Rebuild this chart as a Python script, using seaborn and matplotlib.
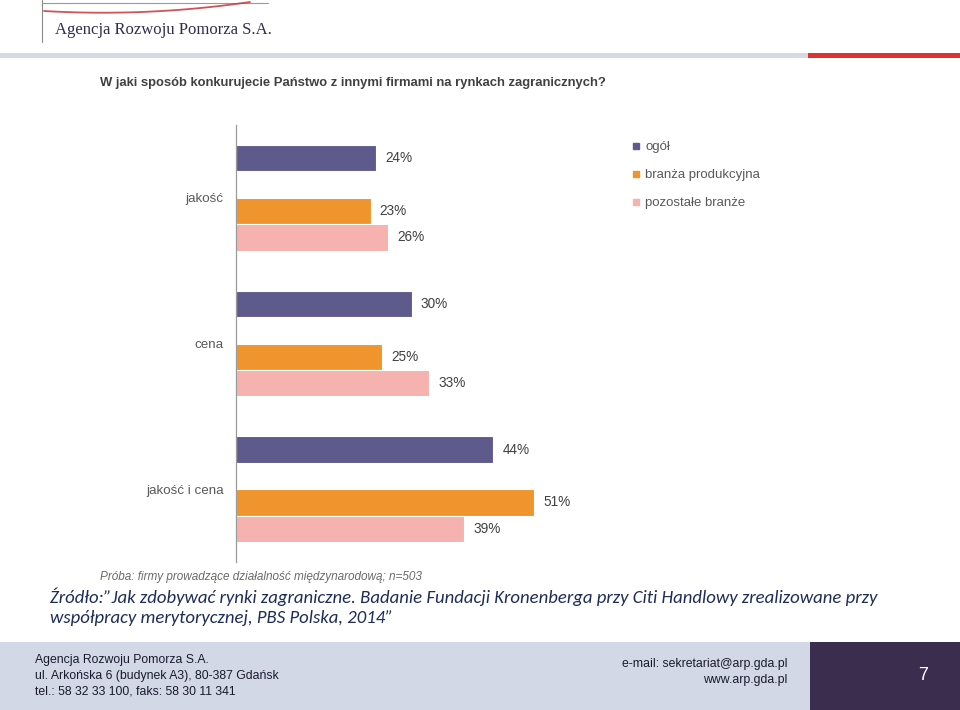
import matplotlib
matplotlib.use("Agg")
import numpy as np
import pandas as pd
import matplotlib.pyplot as plt
from matplotlib.patches import Rectangle
from matplotlib.lines import Line2D
import seaborn as sns

# --- Data ---
categories = ["jakość", "cena", "jakość i cena"]
series = ["ogół", "branża produkcyjna", "pozostałe branże"]
ogol = [24, 30, 44]
produkcyjna = [23, 25, 51]
pozostale = [26, 33, 39]

colors = {"ogół": "#5E5A8C", "branża produkcyjna": "#F0942E", "pozostałe branże": "#F5B2AE"}
GAP = " "  # empty hue slot between "ogół" and the two sector bars

W, H = 960, 710


def fx(px):
    return px / W


def fy(py):
    return 1 - py / H


df = pd.DataFrame({
    "kategoria": categories * 3,
    "seria": [s for s in series for _ in categories],
    "wartosc": ogol + produkcyjna + pozostale,
})

sns.set_theme(style="white")
plt.rcParams["font.family"] = ["Liberation Sans", "DejaVu Sans"]

fig = plt.figure(figsize=(9.6, 7.1), dpi=100)

# --- Slide decoration: header / footer ---
fig.add_artist(Line2D([fx(42), fx(42)], [fy(0), fy(42)], transform=fig.transFigure, color="#8A8A8A", lw=0.8))
fig.add_artist(Line2D([fx(42), fx(268)], [fy(3), fy(3)], transform=fig.transFigure, color="#9A9A9A", lw=0.8))
t = np.linspace(0, 1, 50)
sx = 44 + 206 * t
sy = 11 + 12 * t * (1 - t) - 9 * t ** 2
fig.add_artist(Line2D(fx(sx), fy(sy), transform=fig.transFigure, color="#C8353A", lw=1.3, alpha=0.85))
fig.text(fx(55), fy(30), "Agencja Rozwoju Pomorza S.A.", family=["Liberation Serif"],
         fontsize=12, color="#2E2E4E", va="center")

fig.add_artist(Rectangle((0, fy(58)), fx(808), 5 / H, transform=fig.transFigure, color="#D5D9E6", lw=0))
fig.add_artist(Rectangle((fx(808), fy(58)), fx(152), 5 / H, transform=fig.transFigure, color="#E0312F", lw=0))

fig.add_artist(Rectangle((0, 0), fx(810), 68 / H, transform=fig.transFigure, color="#D2D8E6", lw=0))
fig.add_artist(Rectangle((fx(810), 0), fx(150), 68 / H, transform=fig.transFigure, color="#3A2D4E", lw=0))
fig.text(fx(923), fy(676), "7", color="white", fontsize=13, ha="center", va="center")

foot = ["Agencja Rozwoju Pomorza S.A.",
        "ul. Arkońska 6 (budynek A3), 80-387 Gdańsk",
        "tel.: 58 32 33 100, faks: 58 30 11 341"]
for i, line in enumerate(foot):
    fig.text(fx(35), fy(660 + 15.5 * i), line, fontsize=8.8, color="#1A1A2E", va="center")
fig.text(fx(787), fy(664), "e-mail: sekretariat@arp.gda.pl", fontsize=8.8, color="#1A1A2E",
         ha="right", va="center")
fig.text(fx(787), fy(680), "www.arp.gda.pl", fontsize=8.8, color="#1A1A2E",
         ha="right", va="center")

# --- Chart ---
fig.text(fx(100), fy(83), "W jaki sposób konkurujecie Państwo z innymi firmami na rynkach zagranicznych?",
         fontsize=9.4, weight="bold", color="#404040", va="center")

ax = fig.add_axes([fx(236), fy(562), 351 / W, 437 / H])
sns.barplot(data=df, x="wartosc", y="kategoria", hue="seria", order=categories,
            hue_order=[series[0], GAP, series[1], series[2]],
            palette={**colors, GAP: "white"}, width=0.726, orient="h", saturation=1,
            edgecolor="white", linewidth=0.8, errorbar=None, legend=False, ax=ax)

for c in ax.containers:
    ax.bar_label(c, fmt="%d%%", padding=6.5, fontsize=9.8, color="#404040")

ax.set_xlim(0, 60)
ax.set_xlabel("")
ax.set_ylabel("")
ax.set_xticks([])
ax.tick_params(axis="y", length=0, pad=9, labelcolor="#595959", labelsize=9.6)
for side in ["top", "right", "bottom"]:
    ax.spines[side].set_visible(False)
ax.spines["left"].set_color("#9A9A9A")
ax.spines["left"].set_linewidth(0.9)
ax.set_facecolor("none")

handles = [Line2D([], [], marker="s", linestyle="", color=colors[s], markersize=4) for s in series]
fig.legend(handles, series, loc="upper left", bbox_to_anchor=(fx(632), fy(141)), frameon=False,
           fontsize=9.5, labelcolor="#595959", handlelength=0.6, handletextpad=0.4,
           labelspacing=1.2, borderaxespad=0, borderpad=0)

fig.text(fx(100), fy(577), "Próba: firmy prowadzące działalność międzynarodową; n=503",
         fontsize=8.5, style="italic", color="#6A6A6A", va="center")

src = ["Źródło:”Jak zdobywać rynki zagraniczne. Badanie Fundacji Kronenberga przy Citi Handlowy zrealizowane przy",
       "współpracy merytorycznej, PBS Polska, 2014”"]
for i, line in enumerate(src):
    fig.text(fx(50), fy(597 + 20.5 * i), line, fontsize=13.5, style="italic", color="#1F2D5A",
             va="center", family=["Carlito", "Lato", "DejaVu Sans"])

fig.savefig("out.png", dpi=100)
